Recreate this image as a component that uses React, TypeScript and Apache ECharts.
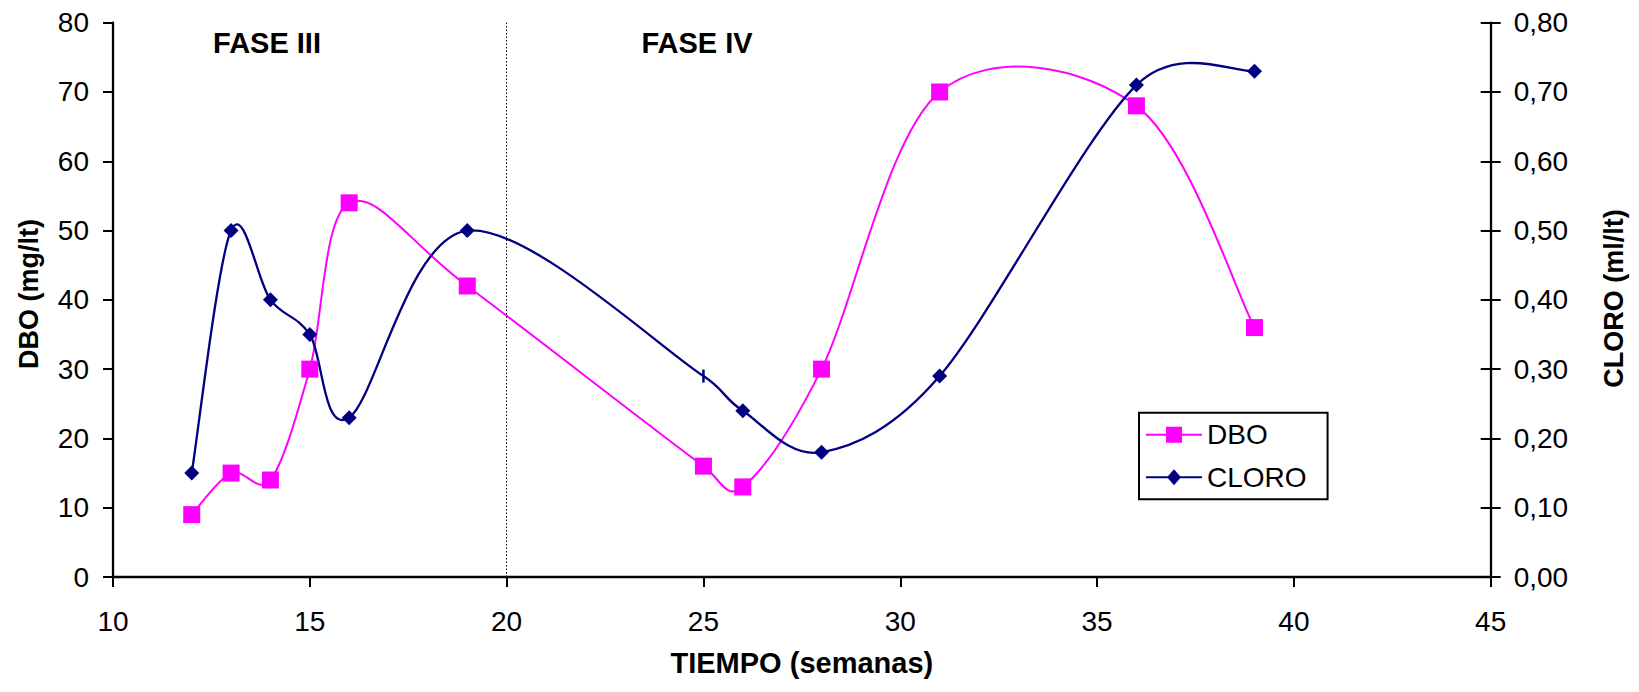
import React, { useEffect, useRef } from "react";
import * as echarts from "echarts";

// Semanas de muestreo y mediciones
const dboWeeks = [12, 13, 14, 15, 16, 19, 25, 26, 28, 31, 36, 39];
const dboValues = [9, 15, 14, 30, 54, 42, 16, 13, 30, 70, 68, 36];

const cloroWeeks = [12, 13, 14, 15, 16, 19, 25, 26, 28, 31, 36, 39];
const cloroValues = [0.15, 0.5, 0.4, 0.35, 0.23, 0.5, 0.29, 0.24, 0.18, 0.29, 0.71, 0.73];

const xTicks = { min: 10, max: 45, interval: 5 };
const leftTicks = { min: 0, max: 80, interval: 10 };
const rightTicks = { min: 0, max: 0.8, interval: 0.1 };

const phaseLabels = ["FASE III", "FASE IV"];
const phaseBoundary = 20;

const PINK = "#FF00FF";
const NAVY = "#000080";
const FONT = "'Liberation Sans', Arial, Helvetica, sans-serif";

// Limits a tangent handle to half of the segment it belongs to
function clampHandle(dx: number, dy: number, segLen: number) {
  const len = Math.hypot(dx, dy);
  const maxLen = segLen * 0.5;
  if (len > maxLen && len > 0) {
    const k = maxLen / len;
    return [dx * k, dy * k];
  }
  return [dx, dy];
}

// Smoothed line: cubic bezier per segment with 1/6 neighbour tangents
function splineRenderer(xs: number[], ys: number[], color: string, width: number) {
  return (params: any, api: any) => {
    const i = params.dataIndex;
    const n = xs.length;
    if (i >= n - 1) return null;
    const P = (k: number) => {
      const kk = Math.max(0, Math.min(n - 1, k));
      return api.coord([xs[kk], ys[kk]]);
    };
    const p0 = P(i - 1);
    const p1 = P(i);
    const p2 = P(i + 1);
    const p3 = P(i + 2);
    const seg = Math.hypot(p2[0] - p1[0], p2[1] - p1[1]);
    const h1 = clampHandle((p2[0] - p0[0]) / 6, (p2[1] - p0[1]) / 6, seg);
    const h2 = clampHandle((p3[0] - p1[0]) / 6, (p3[1] - p1[1]) / 6, seg);
    return {
      type: "bezierCurve",
      silent: true,
      shape: {
        x1: p1[0],
        y1: p1[1],
        x2: p2[0],
        y2: p2[1],
        cpx1: p1[0] + h1[0],
        cpy1: p1[1] + h1[1],
        cpx2: p2[0] - h2[0],
        cpy2: p2[1] - h2[1],
      },
      style: { stroke: color, lineWidth: width, fill: "none" },
    };
  };
}

const pairs = (xs: number[], ys: number[]) => xs.map((x, i) => [x, ys[i]]);

export default function App() {
  const ref = useRef<HTMLDivElement>(null);

  useEffect(() => {
    document.body.style.margin = "0";
    if (!ref.current) return;
    const chart = echarts.init(ref.current, undefined, { renderer: "svg" });

    const axisLine = { show: true, lineStyle: { color: "#000", width: 2.3 } };
    const axisTick = { show: true, length: 10, lineStyle: { color: "#000", width: 2 } };
    const labelStyle = { color: "#000", fontSize: 28, fontFamily: FONT };

    const cloroMarkers = pairs(cloroWeeks, cloroValues).map((p) =>
      p[0] === 25 ? { value: p, symbol: "rect", symbolSize: [2.5, 13] } : { value: p }
    );

    const titleStyle = (text: string, size: number) => ({
      text,
      fontSize: size,
      fontWeight: "bold",
      fontFamily: FONT,
      fill: "#000",
      textAlign: "center",
      textVerticalAlign: "middle",
    });

    chart.setOption({
      animation: false,
      backgroundColor: "#fff",
      grid: { left: 113, right: 148.3, top: 22.7, bottom: 115 },
      xAxis: {
        type: "value",
        ...xTicks,
        axisLine,
        axisTick: { ...axisTick },
        splitLine: { show: false },
        axisLabel: { ...labelStyle, margin: 30 },
        name: "TIEMPO (semanas)",
        nameLocation: "middle",
        nameGap: 71,
        nameTextStyle: { color: "#000", fontSize: 29, fontWeight: "bold", fontFamily: FONT },
      },
      yAxis: [
        {
          type: "value",
          position: "left",
          ...leftTicks,
          axisLine,
          axisTick,
          splitLine: { show: false },
          axisLabel: { ...labelStyle, margin: 24 },
        },
        {
          type: "value",
          position: "right",
          ...rightTicks,
          axisLine,
          axisTick,
          splitLine: { show: false },
          axisLabel: {
            ...labelStyle,
            margin: 23,
            formatter: (v: number) => v.toFixed(2).replace(".", ","),
          },
        },
        {
          // inner half of the crossing ticks on the right axis
          type: "value",
          position: "right",
          ...rightTicks,
          axisLine: { show: false },
          axisTick: { show: true, inside: true, length: 10, lineStyle: { color: "#000", width: 2 } },
          axisLabel: { show: false },
          splitLine: { show: false },
        },
      ],
      legend: {
        data: [
          { name: "DBO", icon: "path://M0 7L56 7L56 9L0 9ZM20 0L36 0L36 16L20 16Z" },
          { name: "CLORO", icon: "path://M0 7L56 7L56 9L0 9ZM28 0L35 8L28 16L21 8Z" },
        ],
        orient: "vertical",
        left: 1139,
        top: 412.7,
        itemWidth: 56,
        itemHeight: 16,
        itemGap: 10.6,
        padding: [6, 21, 6, 7],
        borderColor: "#000",
        borderWidth: 2,
        backgroundColor: "#fff",
        textStyle: { color: "#000", fontSize: 28, fontFamily: FONT, lineHeight: 32 },
      },
      graphic: [
        { type: "text", x: 267, y: 42.5, style: titleStyle(phaseLabels[0], 29) },
        { type: "text", x: 697, y: 42.5, style: titleStyle(phaseLabels[1], 29) },
        { type: "text", x: 29, y: 294, rotation: Math.PI / 2, style: titleStyle("DBO (mg/lt)", 27) },
        { type: "text", x: 1614, y: 298.5, rotation: Math.PI / 2, style: titleStyle("CLORO (ml/lt)", 27) },
      ],
      series: [
        {
          name: "DBO",
          type: "custom",
          xAxisIndex: 0,
          yAxisIndex: 0,
          z: 2,
          data: pairs(dboWeeks, dboValues),
          encode: { x: 0, y: 1 },
          renderItem: splineRenderer(dboWeeks, dboValues, PINK, 2),
          itemStyle: { color: PINK },
        },
        {
          name: "CLORO",
          type: "custom",
          xAxisIndex: 0,
          yAxisIndex: 1,
          z: 2,
          data: pairs(cloroWeeks, cloroValues),
          encode: { x: 0, y: 1 },
          renderItem: splineRenderer(cloroWeeks, cloroValues, NAVY, 2.3),
          itemStyle: { color: NAVY },
        },
        {
          name: "DBO",
          type: "line",
          xAxisIndex: 0,
          yAxisIndex: 0,
          z: 3,
          data: pairs(dboWeeks, dboValues),
          symbol: "rect",
          symbolSize: 17,
          showAllSymbol: true,
          itemStyle: { color: PINK },
          lineStyle: { width: 0, opacity: 0 },
          markLine: {
            silent: true,
            symbol: ["none", "none"],
            label: { show: false },
            lineStyle: { color: "#000", width: 1, type: [1.5, 2] },
            data: [{ xAxis: phaseBoundary }],
          },
        },
        {
          name: "CLORO",
          type: "line",
          xAxisIndex: 0,
          yAxisIndex: 1,
          z: 3,
          data: cloroMarkers,
          symbol: "diamond",
          symbolSize: 15,
          showAllSymbol: true,
          itemStyle: { color: NAVY },
          lineStyle: { width: 0, opacity: 0 },
        },
      ],
    });

    return () => chart.dispose();
  }, []);

  return <div ref={ref} style={{ width: 1639, height: 692 }} />;
}
